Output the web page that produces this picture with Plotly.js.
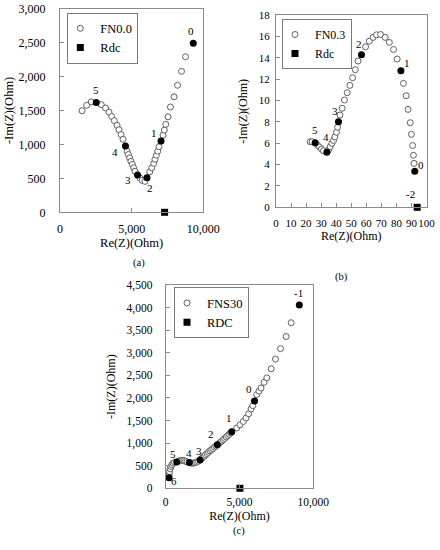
<!DOCTYPE html>
<html><head><meta charset="utf-8">
<script src="https://cdn.plot.ly/plotly-3.0.1.min.js"></script>
<style>html,body{margin:0;padding:0;background:#fff}#chart{width:440px;height:550px}</style>
</head><body><div id="chart"></div>
<script>
// ---------- (a) FN0.0 ----------
const aOpenRe = [1540,1860,2180,2880,3180,3420,3610,3790,3980,4120,4260,4400,4680,4770,4860,4950,5050,5140,5230,5580,5740,5930,6260,6400,6540,6630,6720,6820,6910,7190,7280,7380,7540,7710,7960,8200,8480,8760];
const aOpenIm = [1495,1575,1625,1585,1535,1475,1410,1350,1280,1215,1145,1075,900,850,800,750,705,655,605,505,470,455,595,655,720,780,840,900,965,1135,1210,1295,1405,1550,1700,1870,2075,2290];
const aMarkRe = [9300,7050,6070,5410,4570,2530];
const aMarkIm = [2490,1050,510,550,975,1615];
const aMarkLabels = ['0','1','2','3','4','5'];
const aRdcRe = [7300];
const aRdcIm = [0];

// ---------- (b) FN0.3 ----------
const bOpenRe = [22.7,24.0,27.5,28.9,30.2,31.5,34.9,36.0,37.1,38.2,39.1,40.2,40.9,42.5,44.0,45.5,47.3,49.1,50.9,52.7,54.5,59.5,62.0,64.5,66.8,69.5,72.5,75.3,78.1,80.5,84.7,86.5,87.7,89.2,90.0,90.8,91.3,91.7];
const bOpenIm = [6.15,6.15,5.84,5.65,5.46,5.30,5.37,5.68,6.00,6.26,6.59,7.03,7.50,8.65,9.28,10.06,10.74,11.43,12.15,12.90,13.71,15.05,15.57,15.93,16.17,16.20,15.93,15.46,14.79,13.90,11.62,10.46,9.18,7.93,6.84,5.79,4.88,4.12];
const bMarkRe = [92.2,83.0,56.8,41.5,33.8,26.0];
const bMarkIm = [3.38,12.8,14.29,8.02,5.15,6.05];
const bMarkLabels = ['0','1','2','3','4','5'];
const bRdcRe = [93.8];
const bRdcIm = [0];
const bRdcLabel = '-2';

// ---------- (c) FNS30 ----------
const cOpenRe = [240,260,300,350,420,500,600,850,950,1050,1150,1250,1350,1450,1700,1800,1900,2000,2100,2200,2400,2500,2600,2700,2800,2900,3000,3100,3200,3300,3400,3600,3700,3800,3900,4000,4100,4200,4300,4400,4810,5030,5260,5440,5620,5780,5900,6165,6320,6460,6660,6850,7145,7440,7780,8160,8500];
const cOpenIm = [300,370,430,480,520,555,575,600,612,618,617,610,598,585,560,556,558,566,580,600,650,680,710,740,770,800,830,855,880,910,935,990,1015,1045,1075,1105,1135,1165,1195,1225,1335,1405,1480,1555,1650,1755,1830,2075,2150,2220,2345,2445,2645,2860,3090,3360,3665];
const cMarkRe = [224,745,1599,2324,3496,4472,6016,9052];
const cMarkIm = [236,584,569,629,962,1251,1935,4055];
const cMarkLabels = ['6','5','4','3','2','1','0','-1'];
const cRdcRe = [5030];
const cRdcIm = [0];

// ---------- style (label offsets in px, kept apart from data) ----------
const aShift = [[-2,12],[-7,8],[3,-10],[-10,-5],[-10,-6],[0,13]];
const bShift = [[6,6],[6,8],[-2,11],[-3,11],[-1,15],[0,13]];
const bRdcShift = [-7,13];
const cShift = [[5,-3],[-4,8],[0,10],[-1,9],[-6,11],[-3,14],[-6,12],[-1,12]];

const FONT = 'Liberation Serif, Times New Roman, serif';
const TXT = '#000';
const GRAY = '#8a8a8a';
const openMarker = {symbol:'circle', size:6, color:'#fff', line:{color:'#5f5f5f', width:1}};
const fillMarker = {symbol:'circle', size:7, color:'#000', line:{width:0}};
const rdcMarker = {symbol:'square', size:7, color:'#000', line:{width:0}};

function traces(openRe, openIm, markRe, markIm, rdcRe, rdcIm, name, rdcName, xa, ya, lg) {
  return [
    {type:'scatter', mode:'markers', x:openRe, y:openIm, name:name, marker:openMarker, xaxis:xa, yaxis:ya, legend:lg, cliponaxis:false},
    {type:'scatter', mode:'markers', x:markRe, y:markIm, marker:fillMarker, xaxis:xa, yaxis:ya, showlegend:false, cliponaxis:false},
    {type:'scatter', mode:'markers', x:rdcRe, y:rdcIm, name:rdcName, marker:rdcMarker, xaxis:xa, yaxis:ya, legend:lg, cliponaxis:false}
  ];
}

const data = [].concat(
  traces(aOpenRe, aOpenIm, aMarkRe, aMarkIm, aRdcRe, aRdcIm, 'FN0.0', 'Rdc', 'x', 'y', 'legend'),
  traces(bOpenRe, bOpenIm, bMarkRe, bMarkIm, bRdcRe, bRdcIm, 'FN0.3', 'Rdc', 'x2', 'y2', 'legend2'),
  traces(cOpenRe, cOpenIm, cMarkRe, cMarkIm, cRdcRe, cRdcIm, 'FNS30', 'RDC', 'x3', 'y3', 'legend3')
);

function ax(extra) {
  return Object.assign({
    showline:true, mirror:true, linecolor:GRAY, linewidth:1,
    ticks:'inside', ticklen:4, tickcolor:GRAY, tickwidth:1,
    showgrid:false, zeroline:false, fixedrange:true, tickangle:0
  }, extra);
}
function tf(size) { return {family:FONT, size:size, color:TXT}; }
function ttl(text, standoff, size) {
  return {text:text, standoff:standoff, font:tf(size)};
}

const annotations = [];
function addLabels(xs, ys, labels, shifts, xr, yr) {
  labels.forEach((t, i) => annotations.push({
    x:xs[i], y:ys[i], xref:xr, yref:yr, text:t, showarrow:false,
    xshift:shifts[i][0], yshift:shifts[i][1], font:tf(11)
  }));
}
addLabels(aMarkRe, aMarkIm, aMarkLabels, aShift, 'x', 'y');
addLabels(bMarkRe, bMarkIm, bMarkLabels, bShift, 'x2', 'y2');
addLabels(bRdcRe, bRdcIm, [bRdcLabel], [bRdcShift], 'x2', 'y2');
addLabels(cMarkRe, cMarkIm, cMarkLabels, cShift, 'x3', 'y3');

const captions = [['(a)', 131, 263], ['(b)', 350, 277], ['(c)', 239, 539]];
captions.forEach(c => annotations.push({
  text:c[0], xref:'paper', yref:'paper', x:c[1]/440, y:1 - c[2]/550,
  showarrow:false, font:tf(10.5)
}));

function legendAt(px, py, fontSize) {
  return {x:px/440, y:1 - py/550, xanchor:'left', yanchor:'top', bgcolor:'#fff',
    bordercolor:'#7a7a7a', borderwidth:1, itemwidth:30, tracegroupgap:0, indentation:-8,
    font:tf(fontSize)};
}

const W = 440, H = 550;
const layout = {
  width:W, height:H, margin:{l:0, r:0, t:0, b:0},
  paper_bgcolor:'#fff', plot_bgcolor:'#fff', showlegend:true,
  xaxis: ax({domain:[60/W, 203.3/W], range:[0,10000], tickvals:[0,5000,10000], tickformat:',', anchor:'y',
    tickfont:tf(12), title:ttl('Re(Z)(Ohm)', 3, 12.5), ticklabelstandoff:5}),
  yaxis: ax({domain:[1-212.3/H, 1-8.5/H], range:[0,3000], dtick:500, tickformat:',', anchor:'x',
    tickfont:tf(12), title:ttl('-Im(Z)(Ohm)', 2, 12.5), ticklabelstandoff:11}),
  xaxis2: ax({domain:[276/W, 426.5/W], range:[0,100], dtick:10, anchor:'y2',
    tickfont:tf(11), title:ttl('Re(Z)(Ohm)', 4, 12), ticklabelstandoff:5}),
  yaxis2: ax({domain:[1-207.3/H, 1-15.3/H], range:[0,18], dtick:2, anchor:'x2',
    tickfont:tf(11), title:ttl('-Im(Z)(Ohm)', 8, 12), ticklabelstandoff:3}),
  xaxis3: ax({domain:[165.7/W, 313.3/W], range:[0,10000], tickvals:[0,5000,10000], tickformat:',', anchor:'y3',
    tickfont:tf(11.5), title:ttl('Re(Z)(Ohm)', 3, 12), ticklabelstandoff:3}),
  yaxis3: ax({domain:[1-488.3/H, 1-285/H], range:[0,4500], dtick:500, tickformat:',', anchor:'x3',
    tickfont:tf(11.5), title:ttl('-Im(Z)(Ohm)', 8, 12), ticklabelstandoff:10}),
  legend: legendAt(67.3, 12.7, 12.5),
  legend2: legendAt(282, 19, 12),
  legend3: legendAt(174, 287.3, 12.5),
  annotations: annotations
};

Plotly.newPlot('chart', data, layout, {displayModeBar:false, staticPlot:true});
</script>
</body></html>
